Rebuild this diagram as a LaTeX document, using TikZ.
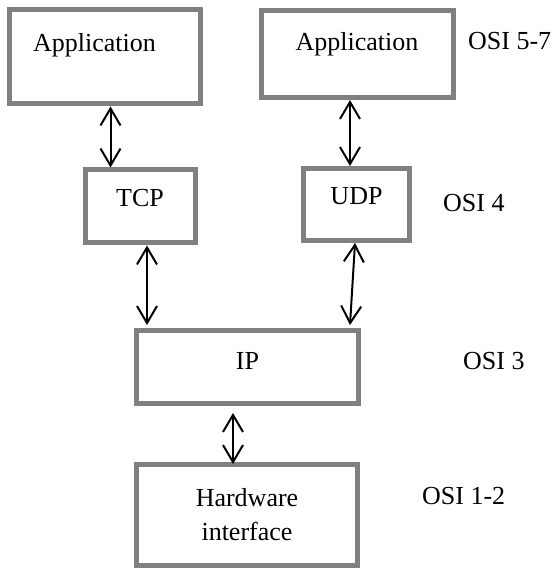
\documentclass[tikz,border=0pt]{standalone}
\usepackage{fontspec}
\setmainfont{Liberation Serif}
\usetikzlibrary{arrows.meta}

\tikzset{
  layer/.style={draw=gray,line width=5pt,rectangle,inner sep=0pt,
    font=\fontsize{26}{34}\selectfont,text height=18pt,text depth=17pt},
  osi/.style={anchor=base west,inner sep=0pt,font=\fontsize{26}{34}\selectfont},
  link/.style={line width=2pt,
    {Straight Barb[length=17pt,width=20pt]}-{Straight Barb[length=17pt,width=20pt]}}
}

\begin{document}
\begin{tikzpicture}[x=1pt,y=1pt]
\useasboundingbox (0,0) rectangle (559,568);
% protocol boxes
\node[layer,minimum width=191pt,minimum height=94pt,text depth=28pt] (app1) at (104.5,511) {\hspace*{-20pt}Application};
\node[layer,minimum width=192pt,minimum height=86.5pt,text depth=26pt] (app2) at (357,513.75) {Application};
\node[layer,minimum width=110pt,minimum height=73pt] (tcp) at (140,361.5) {TCP};
\node[layer,minimum width=106pt,minimum height=72pt] (udp) at (356.5,363.5) {UDP};
\node[layer,minimum width=222pt,minimum height=73pt,text depth=12pt] (ip) at (247.5,201) {IP};
\node[layer,minimum width=221pt,minimum height=101pt,text height=,text depth=,align=center] (hw) at (247,53) {Hardware\\interface};
% OSI levels
\node[osi] (osi57) at (468,518) {OSI 5-7};
\node[osi] (osi4) at (443,356) {OSI 4};
\node[osi] (osi3) at (463,198) {OSI 3};
\node[osi] (osi12) at (422,63) {OSI 1-2};
% links between layers
\draw[link] ([xshift=6pt]app1.south) -- ([xshift=6pt]app1.south |- tcp.north);
\draw[link] ([xshift=-7pt]app2.south) -- ([xshift=-7pt]app2.south |- udp.north);
\draw[link] ([xshift=7pt]tcp.south) -- ([xshift=7pt,yshift=3pt]tcp.south |- ip.north);
\draw[link] ([xshift=-1.5pt]udp.south) -- ([xshift=-6.5pt,yshift=3pt]udp.south |- ip.north);
\draw[link] ([xshift=-14.5pt,yshift=-7pt]ip.south) -- ([xshift=-14pt,yshift=-2pt]hw.north);
\end{tikzpicture}
\end{document}
